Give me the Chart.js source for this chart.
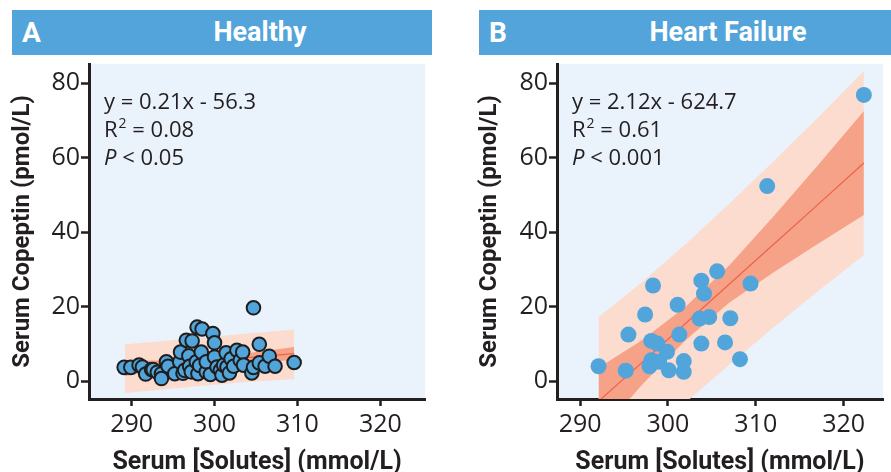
<!DOCTYPE html>
<html>
<head>
<meta charset="utf-8">
<script src="https://cdn.jsdelivr.net/npm/chart.js@4/dist/chart.umd.min.js"></script>
<style>
  body { margin: 0; background: #fff; width: 891px; height: 472px; overflow: hidden; position: relative; font-family: Roboto, sans-serif; }
  .hdr { position: absolute; top: 10px; height: 45px; line-height: 45px; background: #52A4DA; color: #fff; font-weight: bold; }
  .hdr .lt { position: absolute; left: 10px; font-size: 28px; }
  .hdr .tt { position: absolute; font-size: 27px; transform: translateX(-50%); white-space: nowrap; }
  .box { position: absolute; top: 48px; height: 424px; }
</style>
</head>
<body>
<div class="hdr" style="left:12px;width:420px"><span class="lt">A</span><span class="tt" style="left:248px">Healthy</span></div>
<div class="hdr" style="left:479px;width:412px"><span class="lt">B</span><span class="tt" style="left:249px">Heart Failure</span></div>
<div class="box" style="left:0;width:434px"><canvas id="chartA" width="434" height="424"></canvas></div>
<div class="box" style="left:467px;width:424px"><canvas id="chartB" width="424" height="424"></canvas></div>
<script>
// axis ticks
const xTicks = [290, 300, 310, 320];
const yTicks = [0, 20, 40, 60, 80];

// Healthy (A)
const healthyX = [289.1, 289.9, 290.9, 291.3, 291.7, 292.4, 292.6, 293.1, 293.6, 293.6, 294.2, 294.4, 295.2, 295.8, 295.9,
  296.2, 296.4, 296.6, 296.9, 297.0, 297.2, 297.3, 297.8, 297.9, 298.0, 298.2, 298.4, 298.5, 299.0, 299.0, 299.5, 299.8,
  300.0, 300.0, 300.3, 300.7, 300.9, 301.1, 301.4, 301.5, 301.8, 302.0, 302.3, 302.7, 303.1, 303.4, 303.5, 304.5, 304.7,
  304.7, 305.4, 305.4, 306.1, 306.6, 307.3, 309.6];
const healthyY = [3.7, 3.7, 4.3, 3.8, 1.9, 3.1, 3.1, 2.4, 2.0, 0.7, 5.2, 4.0, 2.0, 5.2, 7.8,
  2.1, 2.9, 11.0, 6.8, 4.0, 2.5, 10.8, 5.2, 14.5, 2.0, 4.2, 7.8, 14.0, 2.5, 5.2, 1.8, 12.8,
  10.3, 6.5, 3.8, 2.9, 1.6, 4.3, 7.6, 3.8, 2.2, 6.0, 4.0, 8.3, 5.6, 7.8, 4.3, 2.2, 3.7,
  19.7, 9.9, 4.9, 4.0, 6.7, 4.0, 5.0];
const healthyBandX = [289.2, 294, 299, 304, 309.6];
const healthyFit = [3.4, 4.3, 5.3, 6.3, 7.4];
const healthyCiLow = [1.4, 3.0, 4.5, 5.1, 5.6];
const healthyCiHigh = [5.4, 5.6, 6.1, 7.5, 9.2];
const healthyPiLow = [-3.2, -2.2, -1.2, -0.2, 0.6];
const healthyPiHigh = [9.9, 10.8, 11.8, 12.8, 13.9];
const healthyStats = ['y = 0.21x - 56.3', '0.08', '< 0.05'];

// Heart failure (B)
const hfX = [292.1, 295.2, 295.5, 297.4, 298.3, 298.1, 298.8, 299.9, 298.1, 297.9, 299.0, 300.1, 301.8, 301.8,
  301.1, 301.3, 303.8, 305.6, 304.1, 303.6, 304.7, 303.8, 306.5, 307.1, 308.2, 309.4, 311.3, 322.3];
const hfY = [4.0, 2.8, 12.5, 17.9, 25.7, 10.8, 10.1, 7.9, 5.6, 4.0, 5.2, 2.9, 5.4, 2.5,
  20.5, 12.5, 27.0, 29.5, 23.5, 16.8, 17.2, 10.1, 10.4, 16.9, 5.9, 26.2, 52.4, 76.9];
const hfBandX = [292.1, 297, 302, 307, 312, 317, 322.3];
const hfFit = [-5.4, 4.9, 15.5, 26.1, 36.7, 47.3, 58.6];
const hfCiLow = [-14.4, -1.1, 11.0, 21.1, 29.2, 36.8, 44.6];
const hfCiHigh = [3.6, 10.9, 20.0, 31.1, 44.2, 57.8, 72.6];
const hfPiLow = [-28.0, -16.7, -5.8, 4.5, 14.4, 24.0, 33.9];
const hfPiHigh = [17.2, 26.5, 36.8, 47.7, 59.0, 70.6, 83.3];
const hfStats = ['y = 2.12x - 624.7', '0.61', '< 0.001'];

const INK = '#231F20';
const FONT = 'Roboto';
const TEXT_FONT = "'Open Sans'";

function pts(xs, ys) {
    return xs.map((x, i) => ({ x: x, y: ys[i] }));
}

const plotBg = {
    id: 'plotBg',
    beforeDraw(chart) {
        const a = chart.chartArea, ctx = chart.ctx;
        ctx.save();
        ctx.fillStyle = '#EAF2FB';
        ctx.fillRect(a.left, a.top, a.right - a.left, a.bottom - a.top);
        ctx.restore();
    }
};

function statsText(lines) {
    return {
        id: 'statsText',
        afterDraw(chart) {
            const ctx = chart.ctx, a = chart.chartArea;
            const x = a.left + 15;
            ctx.save();
            ctx.fillStyle = INK;
            ctx.textBaseline = 'alphabetic';
            ctx.font = '500 22px ' + TEXT_FONT;
            ctx.fillText(lines[0], x, a.top + 45);
            ctx.fillText('R', x, a.top + 73);
            const wR = ctx.measureText('R').width;
            ctx.font = '500 14px ' + TEXT_FONT;
            ctx.fillText('2', x + wR + 1, a.top + 64);
            const w2 = ctx.measureText('2').width;
            ctx.font = '500 22px ' + TEXT_FONT;
            ctx.fillText(' = ' + lines[1], x + wR + w2 + 1, a.top + 73);
            ctx.font = 'italic 500 22px ' + TEXT_FONT;
            ctx.fillText('P', x, a.top + 101);
            const wP = ctx.measureText('P').width;
            ctx.font = '500 22px ' + TEXT_FONT;
            ctx.fillText(' ' + lines[2], x + wP, a.top + 101);
            ctx.restore();
        }
    };
}

function makePanel(id, d) {
    const ctx = document.getElementById(id).getContext('2d');
    const band = { type: 'line', pointRadius: 0, borderWidth: 0, tension: 0 };
    return new Chart(ctx, {
        type: 'scatter',
        data: {
            datasets: [
                { ...band, data: pts(d.bandX, d.piLow), fill: false, order: 3 },
                { ...band, data: pts(d.bandX, d.piHigh), fill: '-1', backgroundColor: '#FCDCCE', order: 3 },
                { ...band, data: pts(d.bandX, d.ciLow), fill: false, order: 2 },
                { ...band, data: pts(d.bandX, d.ciHigh), fill: '-1', backgroundColor: '#F5A288', order: 2 },
                { ...band, data: pts(d.bandX, d.fit), fill: false, borderWidth: 1.2, borderColor: '#EE6248', order: 1 },
                {
                    data: pts(d.xs, d.ys),
                    pointRadius: d.radius,
                    pointBackgroundColor: '#52A5DB',
                    pointBorderColor: '#1E1E1E',
                    pointBorderWidth: d.border,
                    order: 0
                }
            ]
        },
        options: {
            responsive: false,
            animation: false,
            events: [],
            layout: { padding: { top: 15, right: d.padRight, left: 0, bottom: 0 } },
            plugins: { legend: { display: false }, tooltip: { enabled: false } },
            scales: {
                x: {
                    type: 'linear',
                    min: d.xMin,
                    max: d.xMax,
                    afterBuildTicks: s => { s.ticks = xTicks.map(v => ({ value: v })); },
                    afterFit: s => { s.height = 73; },
                    grid: { drawOnChartArea: false, tickLength: 7, tickWidth: 2.5, tickColor: INK },
                    border: { color: INK, width: 3 },
                    ticks: { color: INK, font: { family: TEXT_FONT, size: 25 }, padding: 4, maxRotation: 0 },
                    title: {
                        display: true, text: 'Serum [Solutes] (mmol/L)', color: INK,
                        font: { family: FONT, size: 25, weight: 'bold', lineHeight: 1 }, padding: { top: 0, bottom: -3 }
                    }
                },
                y: {
                    min: -4.8,
                    max: 85.2,
                    afterBuildTicks: s => { s.ticks = yTicks.map(v => ({ value: v })); },
                    afterFit: s => { s.width = d.yWidth; },
                    grid: { drawOnChartArea: false, tickLength: 8, tickWidth: 2.5, tickColor: INK },
                    border: { color: INK, width: 3 },
                    ticks: { color: INK, font: { family: TEXT_FONT, size: 25 }, padding: 1 },
                    title: {
                        display: true, text: 'Serum Copeptin (pmol/L)', color: INK,
                        font: { family: FONT, size: 24, weight: 'bold', lineHeight: 1 }, padding: { top: 11, bottom: 0 }
                    }
                }
            }
        },
        plugins: [plotBg, statsText(d.stats)]
    });
}

makePanel('chartA', {
    xs: healthyX, ys: healthyY, bandX: healthyBandX, fit: healthyFit,
    ciLow: healthyCiLow, ciHigh: healthyCiHigh, piLow: healthyPiLow, piHigh: healthyPiHigh,
    stats: healthyStats, radius: 6.8, border: 2, xMin: 284.86, xMax: 325.41, yWidth: 89, padRight: 2
});

makePanel('chartB', {
    xs: hfX, ys: hfY, bandX: hfBandX, fit: hfFit,
    ciLow: hfCiLow, ciHigh: hfCiHigh, piLow: hfPiLow, piHigh: hfPiHigh,
    stats: hfStats, radius: 8, border: 0, xMin: 287.37, xMax: 324.48, yWidth: 90, padRight: 0
});
</script>
</body>
</html>
